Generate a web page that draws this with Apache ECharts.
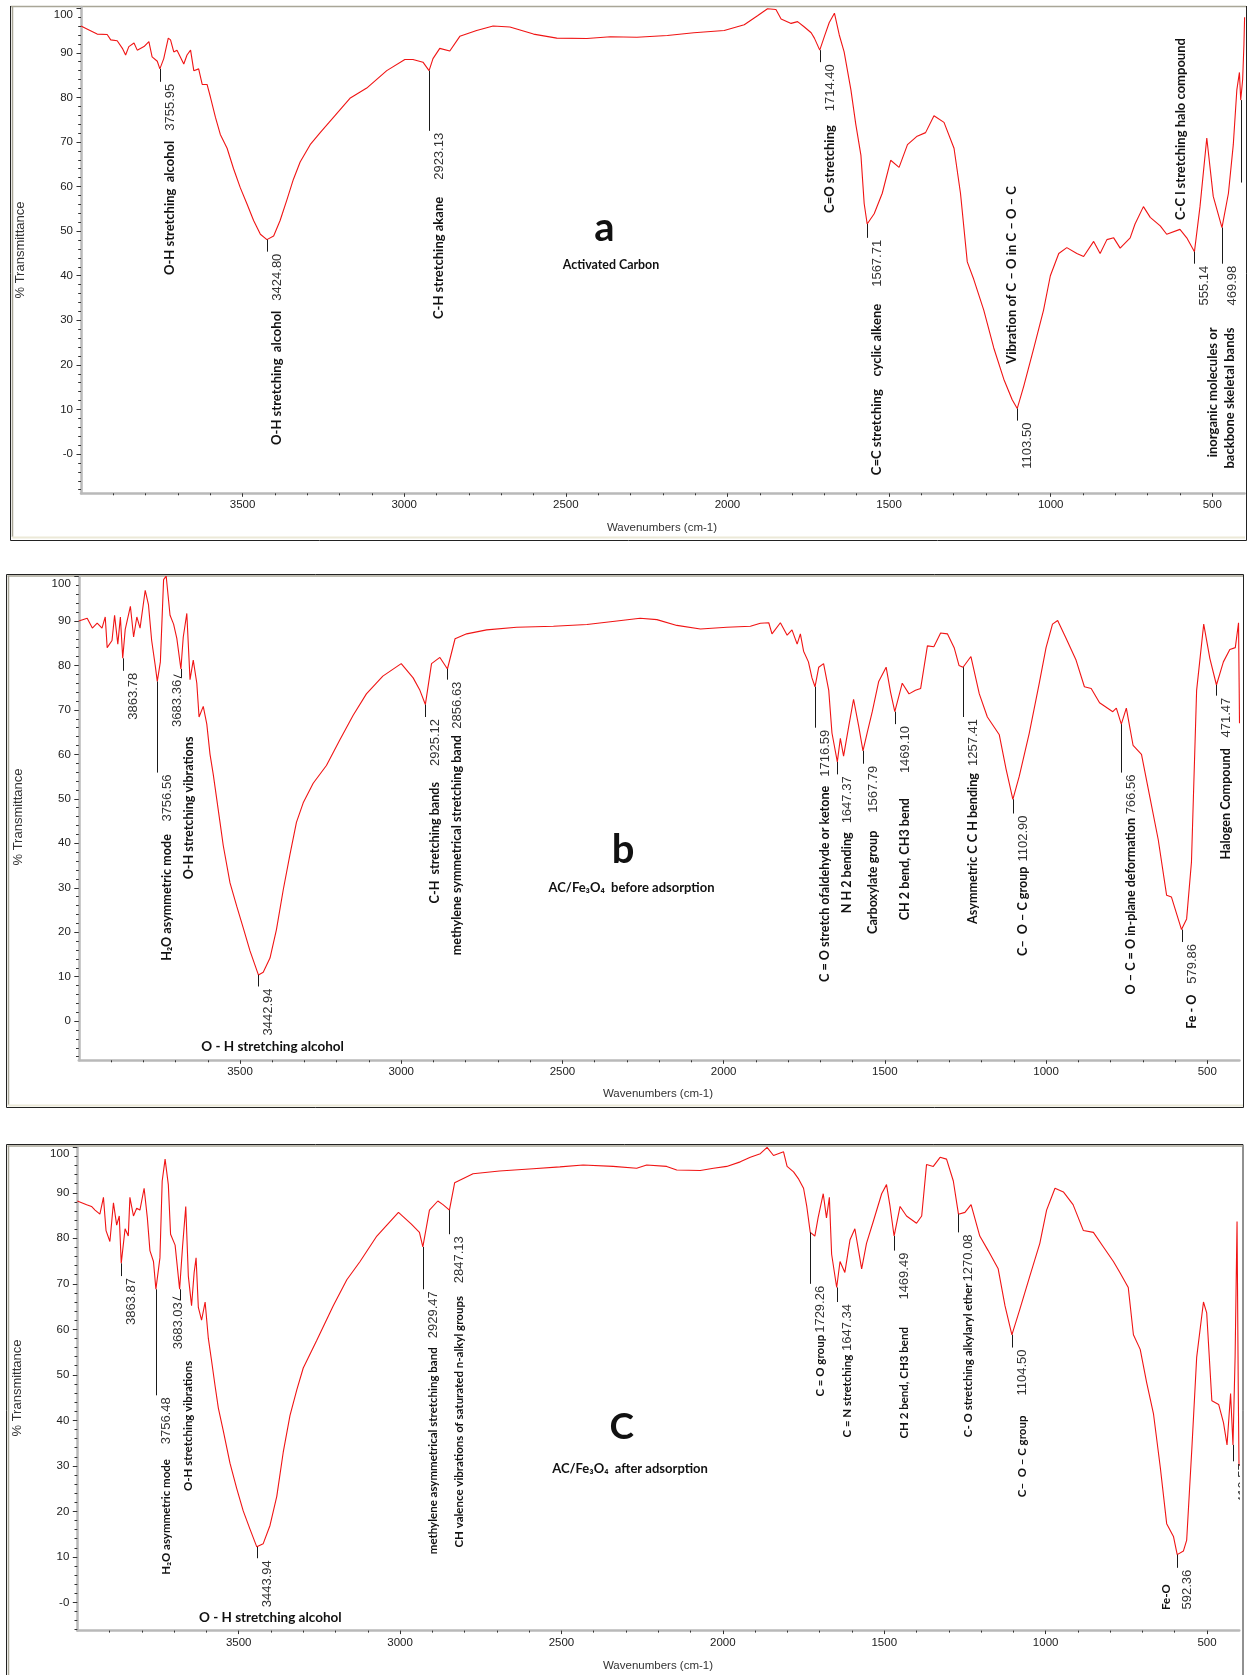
<!DOCTYPE html>
<html>
<head>
<meta charset="utf-8">
<script src="https://cdn.jsdelivr.net/npm/echarts@6/dist/echarts.min.js"></script>
<style>
  html, body { margin: 0; padding: 0; background: #fff; }
  #chart { width: 1247px; height: 1675px; }
</style>
</head>
<body>
<div id="chart"></div>
<script>
// ---------- FTIR spectra: [wavenumber cm-1, % transmittance] ----------
const aSpectrum = [[4000,96.0],[3980,95.3],[3950,94.2],[3919,94.1],[3908,92.9],[3888,92.7],[3872,91.0],[3862,89.5],[3852,91.4],[3836,92.2],[3826,90.6],[3805,91.4],[3790,92.5],[3780,89.1],[3764,88.1],[3755.95,86.4],[3744,88.7],[3730,93.3],[3723,92.9],[3713,90.2],[3703,90.6],[3682,87.5],[3672,89.5],[3661,90.6],[3651,86.0],[3636,86.4],[3625,82.9],[3610,82.9],[3600,80.2],[3584,75.5],[3569,71.7],[3548,68.6],[3528,64.0],[3507,59.7],[3487,56.2],[3466,52.4],[3445,49.3],[3424.8,48.1],[3404,48.9],[3384,52.4],[3363,57.0],[3343,61.6],[3322,65.5],[3291,69.4],[3260,72.1],[3219,75.5],[3168,79.8],[3116,82.1],[3054,86.0],[2998,88.5],[2973,88.5],[2942,87.9],[2923.13,86.0],[2911,88.7],[2890,91.0],[2859,90.4],[2828,93.7],[2776,95.0],[2725,96.0],[2673,95.8],[2600,94.2],[2528,93.3],[2435,93.2],[2362,93.6],[2280,93.5],[2186,93.9],[2104,94.5],[2010,95.0],[1948,96.3],[1907,98.3],[1876,99.9],[1850,99.7],[1834,97.6],[1803,96.6],[1783,97.0],[1762,95.8],[1741,94.5],[1731,93.3],[1714.4,90.6],[1700,93.7],[1685,96.8],[1669,98.9],[1654,94.0],[1639,90.2],[1618,81.7],[1603,74.0],[1587,67.0],[1577,56.2],[1567.71,51.6],[1546,53.9],[1521,58.5],[1495,65.9],[1469,64.3],[1443,69.4],[1413,71.3],[1387,72.1],[1361,75.9],[1330,74.4],[1299,68.6],[1279,58.5],[1258,43.1],[1238,39.2],[1207,32.3],[1176,23.8],[1145,16.8],[1119,12.2],[1103.5,10.2],[1083,15.3],[1052,23.8],[1022,32.3],[1001,40.0],[975,45.0],[950,46.3],[919,45.0],[898,44.3],[867,47.7],[847,45.0],[826,48.1],[805,48.5],[785,46.2],[754,48.5],[739,51.6],[713,55.5],[692,53.1],[661,51.2],[641,49.3],[600,50.4],[579,48.5],[555.14,45.4],[538,55.5],[517,70.9],[497,57.8],[469.98,50.8],[450,58.5],[435,69.4],[424,81.7],[416,85.6],[412,79.4],[406,84.0],[402,92.0],[400,98.0]];

const bSpectrum = [[4000,90.0],[3974,90.6],[3958,88.4],[3943,89.5],[3928,88.4],[3918,90.9],[3912,84.0],[3897,85.6],[3889,91.3],[3879,84.8],[3871,90.9],[3863.78,81.6],[3856,88.1],[3840,93.3],[3830,86.4],[3820,90.9],[3810,88.4],[3794,96.9],[3784,93.7],[3774,85.6],[3763,80.0],[3756.56,76.4],[3747,80.8],[3737,99.3],[3729,100.1],[3717,91.3],[3706,89.3],[3696,86.1],[3683.36,79.2],[3676,86.4],[3665,91.7],[3655,76.8],[3645,81.2],[3634,76.0],[3627,68.4],[3614,70.8],[3603,66.8],[3593,60.0],[3583,55.5],[3562,44.7],[3552,39.5],[3531,31.1],[3510,25.8],[3490,21.0],[3469,15.8],[3442.94,10.4],[3428,11.0],[3407,14.2],[3387,20.6],[3366,29.5],[3345,37.5],[3325,44.7],[3304,49.1],[3273,53.5],[3232,57.5],[3191,63.2],[3149,68.8],[3108,73.6],[3057,77.6],[3000,80.4],[2963,77.2],[2942,74.4],[2925.12,71.2],[2906,80.4],[2880,81.8],[2856.63,79.2],[2833,86.0],[2797,87.1],[2735,88.0],[2642,88.6],[2528,88.8],[2424,89.2],[2331,90.0],[2259,90.6],[2207,90.3],[2145,89.0],[2072,88.2],[1990,88.6],[1917,88.8],[1886,89.5],[1860,89.6],[1850,87.1],[1824,89.6],[1803,86.8],[1788,88.0],[1772,84.8],[1762,87.1],[1752,83.2],[1737,80.8],[1726,77.2],[1716.59,75.2],[1705,79.6],[1690,80.4],[1674,74.4],[1664,64.8],[1647.37,58.3],[1638,63.6],[1628,59.6],[1612,66.3],[1597,72.4],[1581,66.3],[1567.79,60.8],[1555,64.8],[1539,69.6],[1519,76.4],[1496,79.6],[1482,73.9],[1469.1,69.6],[1446,76.0],[1425,73.6],[1405,74.4],[1389,74.8],[1368,84.4],[1348,84.2],[1327,87.3],[1306,87.1],[1285,84.0],[1270,80.0],[1257.41,79.6],[1233,82.0],[1207,73.6],[1182,68.4],[1145,64.4],[1124,56.7],[1102.9,49.9],[1083,55.1],[1052,64.8],[1021,76.0],[1000,84.0],[980,89.3],[964,90.1],[938,86.1],[907,81.2],[881,75.2],[860,74.8],[834,71.6],[793,69.6],[782,70.4],[766.56,66.8],[751,70.4],[730,62.0],[704,60.0],[678,50.4],[652,40.8],[626,28.3],[611,27.9],[579.86,20.6],[564,23.0],[549,35.8],[533,74.4],[511,89.3],[492,81.6],[471.47,75.6],[450,80.8],[430,83.6],[413,84.0],[403,89.6],[401,75.0],[400,67.0]];

const cSpectrum = [[4000,88.2],[3971,87.4],[3956,87.0],[3945,86.2],[3930,85.3],[3919,89.0],[3911,81.7],[3899,79.3],[3888,87.8],[3878,82.9],[3870,84.9],[3863.87,74.5],[3852,82.1],[3842,80.5],[3837,89.0],[3826,84.9],[3816,86.6],[3806,86.2],[3793,91.0],[3783,84.5],[3775,77.3],[3764,74.9],[3756.48,68.8],[3744,75.7],[3737,92.6],[3728,97.4],[3718,91.8],[3711,80.9],[3697,78.5],[3683.03,68.8],[3674,78.1],[3664,87.0],[3656,71.7],[3646,65.2],[3638,72.5],[3632,75.7],[3625,64.8],[3615,62.0],[3604,66.0],[3594,58.0],[3584,53.1],[3573,47.5],[3563,42.7],[3548,37.8],[3527,30.6],[3506,25.0],[3486,20.1],[3465,16.1],[3443.94,12.2],[3424,12.9],[3403,16.9],[3382,23.3],[3362,33.0],[3341,41.1],[3320,46.7],[3300,51.5],[3258,57.6],[3207,65.2],[3165,70.9],[3124,74.9],[3072,80.5],[3005,85.7],[2965,83.1],[2940,81.3],[2929.47,78.1],[2909,86.2],[2883,88.2],[2867,87.4],[2847.13,86.2],[2831,92.2],[2774,94.2],[2692,94.8],[2588,95.3],[2505,95.7],[2433,96.1],[2340,95.8],[2267,95.4],[2236,96.1],[2174,95.8],[2143,95.0],[2070,94.9],[2029,95.4],[1988,95.8],[1946,96.8],[1915,97.8],[1884,98.6],[1863,100.0],[1843,98.2],[1812,99.0],[1801,95.8],[1781,94.6],[1765,93.0],[1750,91.0],[1740,87.0],[1729.26,81.3],[1715,80.5],[1705,84.5],[1689,89.8],[1679,84.5],[1670,89.0],[1663,76.5],[1647.34,69.2],[1637,74.9],[1622,72.5],[1606,79.7],[1591,82.1],[1570,73.3],[1555,78.9],[1534,83.7],[1508,89.8],[1493,91.8],[1482,87.0],[1469.49,80.5],[1451,87.0],[1431,84.9],[1400,83.3],[1384,84.9],[1369,96.2],[1348,95.8],[1327,97.8],[1307,97.4],[1286,92.6],[1270.08,85.3],[1250,85.7],[1231,87.4],[1204,80.5],[1178,77.3],[1147,73.3],[1126,65.2],[1104.5,58.8],[1080,64.4],[1049,71.7],[1018,78.9],[997,86.2],[971,91.0],[945,90.2],[915,87.4],[883,81.7],[852,81.3],[821,78.1],[790,74.9],[770,72.5],[744,69.2],[728,58.8],[707,55.6],[687,48.3],[666,41.5],[645,29.8],[625,17.3],[604,14.5],[592.36,10.5],[573,11.3],[563,13.7],[547,33.8],[532,53.9],[511,66.0],[501,63.6],[485,44.3],[464,43.5],[449,39.5],[438,34.6],[427,45.9],[419.57,34.6],[413,53.9],[407,83.7],[403,45.0],[401,30.6],[400,30.0]];

// ---------- peak picks: position, %T at the band, %T where the pick line ends ----------
const aPeakWave = [3755.95, 3424.80, 2923.13, 1714.40, 1567.71, 1103.50, 555.14, 469.98];
const aPeakTop  = [86.4, 48.1, 86.0, 90.6, 51.6, 10.2, 45.4, 50.8];
const aPeakEnd  = [83.5, 45.4, 72.5, 87.9, 48.5, 7.5, 42.7, 42.7];
const aPeakNote = ['O-H stretching  alcohol', 'O-H stretching  alcohol', 'C-H stretching akane', 'C=O stretching', 'C=C stretching    cyclic alkene', '', '', ''];
const aBareWave = [412];
const aBareTop  = [79.4];
const aBareEnd  = [60.9];
const aTextWave = [1119, 598, 497, 445];
const aTextTop  = [60.1, 93.3, 28.4, 28.4];
const aText     = ['Vibration of C \u2013 O in C \u2013 O \u2013 C', 'C-C l stretching halo compound', 'inorganic molecules or', 'backbone skeletal bands'];

const bPeakWave = [3863.78, 3756.56, 3683.36, 3442.94, 2925.12, 2856.63, 1716.59, 1647.37, 1567.79, 1469.10, 1257.41, 1102.90, 766.56, 579.86, 471.47];
const bPeakTop  = [81.6, 76.4, 79.2, 10.4, 71.2, 79.2, 75.2, 58.3, 60.8, 69.6, 79.6, 49.9, 66.8, 20.6, 75.6];
const bPeakEnd  = [78.8, 55.9, 77.2, 7.8, 68.4, 76.8, 66.0, 55.5, 57.9, 66.8, 68.4, 46.7, 55.9, 17.8, 73.2];
const bPeakNote = ['', 'H\u2082O asymmetric mode', '', '', 'C-H  stretching bands', 'methylene symmetrical stretching band', 'C = O stretch ofaldehyde or ketone', 'N H 2 bending', 'Carboxylate group', 'CH 2 bend, CH3 bend', 'Asymmetric C C H bending', 'C\u2013  O \u2013 C group', 'O \u2013 C = O in-plane deformation', 'Fe - O', 'Halogen Compound'];
const bTextWave = [3658];
const bTextTop  = [64.0];
const bText     = ['O-H stretching vibrations'];
const bFlatWave = [3399];
const bFlatT    = [-5.8];
const bFlatText = ['O - H stretching alcohol'];

const cPeakWave = [3863.87, 3756.48, 3683.03, 3443.94, 2929.47, 2847.13, 1729.26, 1647.34, 1469.49, 1270.08, 1104.50, 592.36, 419.57];
const cPeakTop  = [74.5, 68.8, 68.8, 12.2, 78.1, 86.2, 81.3, 69.2, 80.5, 85.3, 58.8, 10.5, 34.6];
const cPeakEnd  = [71.7, 45.5, 66.4, 9.7, 68.8, 80.9, 70.0, 66.0, 77.3, 81.3, 56.0, 7.6, 31.0];
const cPeakNote = ['', 'H\u2082O asymmetric mode', '', '', 'methylene asymmetrical stretching band', 'CH valence vibrations of saturated n-alkyl groups', 'C = O group', 'C = N stretching', 'CH 2 bend, CH3 bend', 'C- O stretching alkylaryl ether', 'C\u2013  O \u2013 C group', '', ''];
const cTextWave = [3656, 625];
const cTextTop  = [53.1, 4.0];
const cText     = ['O-H stretching vibrations', 'Fe-O'];
const cFlatWave = [3402];
const cFlatT    = [-3.4];
const cFlatText = ['O - H stretching alcohol'];

// ---------- axis ticks ----------
const waveTicks = [3500, 3000, 2500, 2000, 1500, 1000, 500];
const waveMinorTicks = [3900, 3800, 3700, 3600, 3400, 3300, 3200, 3100, 2900, 2800, 2700, 2600, 2400, 2300, 2200, 2100, 1900, 1800, 1700, 1600, 1400, 1300, 1200, 1100, 900, 800, 700, 600];
const transTicks = [0, 10, 20, 30, 40, 50, 60, 70, 80, 90, 100];

// ---------- panel layout (pixels) ----------
const panelBox = [
  { left: 81,   top: 6.9,    width: 1163.6, height: 486.4, yMin: -8.8, yMax: 100.3, zero: '-0', note: 13.0, gaps: [10, 10, 17, 14, 17, 0, 0, 0], kinks: {} },
  { left: 78.8, top: 576.5,  width: 1160.7, height: 483.8, yMin: -8.8, yMax: 100,   zero: '0',  note: 12.6, gaps: [0, 12.5, 0, 0, 16, 6.4, 9, 9, 18, 25, 7, 5, 3.6, 10.7, 10.7], kinks: {2: -4} },
  { left: 77.3, top: 1147.3, width: 1162,   height: 483.3, yMin: -6.2, yMax: 100,   zero: '-0', note: 11.5, gaps: [0, 14.7, 0, 0, 9, 12.8, 2, 3.7, 27.5, 2, 20, 0, 0], kinks: {2: -2.5} }
];

const NOTE_FONT = 'Lato';
const NUM_FONT = '"Liberation Sans", Arial, sans-serif';
const INK = '#111';

function minorTrans(lo) {
  const out = [];
  for (let v = Math.ceil(lo / 2) * 2; v < 100; v += 2) if (v % 10 !== 0) out.push(v);
  return out;
}

const xAxes = [], yAxes = [], grids = [];
panelBox.forEach((p, gi) => {
  grids.push({ left: p.left, top: p.top, width: p.width, height: p.height, containLabel: false });
  const common = { type: 'value', gridIndex: gi, min: 400, max: 4000, inverse: true, position: 'bottom', splitLine: { show: false } };
  xAxes.push(Object.assign({}, common, {
    axisLine: { show: true, onZero: false, lineStyle: { color: '#b9b9b9', width: 2.5 } },
    axisTick: { show: true, customValues: waveTicks, length: 3.5, lineStyle: { color: '#333', width: 1 } },
    axisLabel: { show: true, customValues: waveTicks, margin: 6, fontSize: 11.5, color: '#222', fontFamily: NUM_FONT, formatter: v => String(v) }
  }));
  xAxes.push(Object.assign({}, common, {
    axisLine: { show: false, onZero: false },
    axisTick: { show: true, customValues: waveMinorTicks, length: 2, lineStyle: { color: '#333', width: 1 } },
    axisLabel: { show: false }
  }));
  const yc = { type: 'value', gridIndex: gi, min: p.yMin, max: p.yMax, position: 'left', splitLine: { show: false } };
  yAxes.push(Object.assign({}, yc, {
    axisLine: { show: true, onZero: false, lineStyle: { color: '#b9b9b9', width: 2.5 } },
    axisTick: { show: true, customValues: transTicks, length: 4.5, lineStyle: { color: '#333', width: 1 } },
    axisLabel: {
      show: true, customValues: transTicks, margin: 8, fontSize: 11.5, color: '#222', fontFamily: NUM_FONT,
      formatter: v => v === 0 ? p.zero : (v === 100 ? '{top|100}' : String(v)),
      rich: { top: { padding: [14, 0, 0, 0], fontSize: 11.5, fontFamily: NUM_FONT, color: '#222' } }
    }
  }));
  yAxes.push(Object.assign({}, yc, {
    axisLine: { show: false, onZero: false },
    axisTick: { show: true, customValues: minorTrans(p.yMin), length: 2.8, lineStyle: { color: '#333', width: 1 } },
    axisLabel: { show: false }
  }));
});

function spectrumSeries(gi, data) {
  return {
    type: 'line', xAxisIndex: 2 * gi, yAxisIndex: 2 * gi, data: data,
    showSymbol: false, symbol: 'none', silent: true, animation: false, z: 3,
    lineStyle: { color: '#f01414', width: 1.1 }
  };
}

// pick lines with the wavenumber (and optional assignment) written upward below them
function peakSeries(gi, waves, tops, ends, notes, numbered) {
  const p = panelBox[gi];
  return {
    type: 'custom', xAxisIndex: 2 * gi, yAxisIndex: 2 * gi, clip: true, silent: true, animation: false, z: 5,
    data: waves.map((w, i) => [w, tops[i], ends[i], i]),
    renderItem: (params, api) => {
      const i = api.value(3);
      const w = api.value(0);
      const a = api.coord([w, api.value(1)]);
      const b = api.coord([w, api.value(2)]);
      const x = Math.round(a[0]) + 0.5;
      const kids = [{ type: 'line', shape: { x1: x, y1: a[1], x2: x, y2: b[1] }, style: { stroke: '#1a1a1a', lineWidth: 1 } }];
      if (!numbered) return { type: 'group', children: kids };
      let dx = 9.5;
      if (p.kinks[i] !== undefined) {
        dx = p.kinks[i];
        kids.push({ type: 'line', shape: { x1: x, y1: b[1], x2: x - 8, y2: b[1] - 3 }, style: { stroke: '#1a1a1a', lineWidth: 1 } });
      }
      const num = w.toFixed(2);
      const note = notes[i];
      const text = note ? '{b|' + note + '}{g| }{n|' + num + '}' : '{n|' + num + '}';
      kids.push({
        type: 'text', x: x + dx, y: b[1] + 2, rotation: Math.PI / 2,
        style: {
          text: text, align: 'right', verticalAlign: 'middle',
          rich: {
            b: { fontFamily: NOTE_FONT, fontWeight: 'bold', fontSize: p.note, fill: INK, color: INK },
            g: { width: p.gaps[i] || 0, fontSize: 4 },
            n: { fontFamily: NUM_FONT, fontSize: 13, fill: '#333', color: '#333' }
          }
        }
      });
      return { type: 'group', children: kids };
    }
  };
}

// free assignments written upward, anchored at their upper end
function noteSeries(gi, waves, tops, texts, flat) {
  const p = panelBox[gi];
  return {
    type: 'custom', xAxisIndex: 2 * gi, yAxisIndex: 2 * gi, clip: true, silent: true, animation: false, z: 5,
    data: waves.map((w, i) => [w, tops[i], i]),
    renderItem: (params, api) => {
      const c = api.coord([api.value(0), api.value(1)]);
      return {
        type: 'text', x: c[0], y: c[1], rotation: flat ? 0 : Math.PI / 2,
        style: {
          text: texts[api.value(2)], fontFamily: NOTE_FONT, fontWeight: 'bold',
          fontSize: flat ? 13.5 : p.note, fill: INK,
          align: flat ? 'center' : 'right', verticalAlign: 'middle'
        }
      };
    }
  };
}

const series = [
  spectrumSeries(0, aSpectrum),
  peakSeries(0, aPeakWave, aPeakTop, aPeakEnd, aPeakNote, true),
  peakSeries(0, aBareWave, aBareTop, aBareEnd, [], false),
  noteSeries(0, aTextWave, aTextTop, aText, false),
  spectrumSeries(1, bSpectrum),
  peakSeries(1, bPeakWave, bPeakTop, bPeakEnd, bPeakNote, true),
  noteSeries(1, bTextWave, bTextTop, bText, false),
  noteSeries(1, bFlatWave, bFlatT, bFlatText, true),
  spectrumSeries(2, cSpectrum),
  peakSeries(2, cPeakWave, cPeakTop, cPeakEnd, cPeakNote, true),
  noteSeries(2, cTextWave, cTextTop, cText, false),
  noteSeries(2, cFlatWave, cFlatT, cFlatText, true)
];

// ---------- frames, panel letters, sample names, axis titles ----------
function seg(x1, y1, x2, y2, color, w) {
  return { type: 'line', silent: true, shape: { x1: x1, y1: y1, x2: x2, y2: y2 }, style: { stroke: color, lineWidth: w || 1 } };
}
function txt(x, y, text, font, color, rot) {
  return { type: 'text', silent: true, x: x, y: y, rotation: rot || 0, style: { text: text, font: font, fill: color || INK, align: 'center', verticalAlign: 'middle' } };
}
const graphics = [
  // panel a frame
  seg(10.5, 6.5, 1246, 6.5, '#a9a697', 1.5),
  seg(10.5, 6, 10.5, 540.5, '#222'),
  seg(12.5, 7, 12.5, 537, '#a9a697', 1.5),
  seg(1246.5, 6, 1246.5, 540.5, '#222'),
  seg(10.5, 540.5, 1246.5, 540.5, '#222'),
  seg(12, 537.5, 1245, 537.5, '#ece9d8', 2),
  // panel b frame
  { type: 'rect', silent: true, shape: { x: 6.5, y: 574.5, width: 1237, height: 533 }, style: { fill: 'none', stroke: '#222', lineWidth: 1 } },
  seg(7.5, 576, 1243, 576, '#a9a697', 1.5),
  seg(8.5, 576, 8.5, 1106, '#a9a697', 1.5),
  seg(8, 1105.5, 1243, 1105.5, '#ece9d8', 2),
  // panel c frame
  { type: 'rect', silent: true, shape: { x: 6.5, y: 1144.5, width: 1236.5, height: 560 }, style: { fill: 'none', stroke: '#222', lineWidth: 1 } },
  seg(7.5, 1146, 1242.5, 1146, '#a9a697', 1.5),
  seg(8.5, 1146, 8.5, 1675, '#a9a697', 1.5),
  // panel letters and sample names
  txt(604.5, 228, 'a', 'bold 40px Lato'),
  txt(611, 264.5, 'Activated Carbon', 'bold 12.4px Lato'),
  txt(623, 850, 'b', 'bold 40px Lato'),
  txt(631.5, 888, 'AC/Fe\u2083O\u2084  before adsorption', 'bold 13px Lato'),
  txt(621.7, 1427, 'C', 'bold 37px Lato'),
  txt(630, 1468.5, 'AC/Fe\u2083O\u2084  after adsorption', 'bold 13px Lato'),
  // axis titles
  txt(20.7, 250, '% Transmittance', '13px "Liberation Sans", Arial', '#333', Math.PI / 2),
  txt(18.3, 817, '% Transmittance', '13px "Liberation Sans", Arial', '#333', Math.PI / 2),
  txt(17.3, 1388, '% Transmittance', '13px "Liberation Sans", Arial', '#333', Math.PI / 2),
  txt(662, 528, 'Wavenumbers (cm-1)', '11.5px "Liberation Sans", Arial', '#333'),
  txt(658, 1094, 'Wavenumbers (cm-1)', '11.5px "Liberation Sans", Arial', '#333'),
  txt(658, 1666, 'Wavenumbers (cm-1)', '11.5px "Liberation Sans", Arial', '#333')
];

const chart = echarts.init(document.getElementById('chart'), null, { renderer: 'canvas', width: 1247, height: 1675 });
chart.setOption({
  backgroundColor: '#ffffff',
  animation: false,
  grid: grids,
  xAxis: xAxes,
  yAxis: yAxes,
  series: series,
  graphic: { elements: graphics }
});
</script>
</body>
</html>
